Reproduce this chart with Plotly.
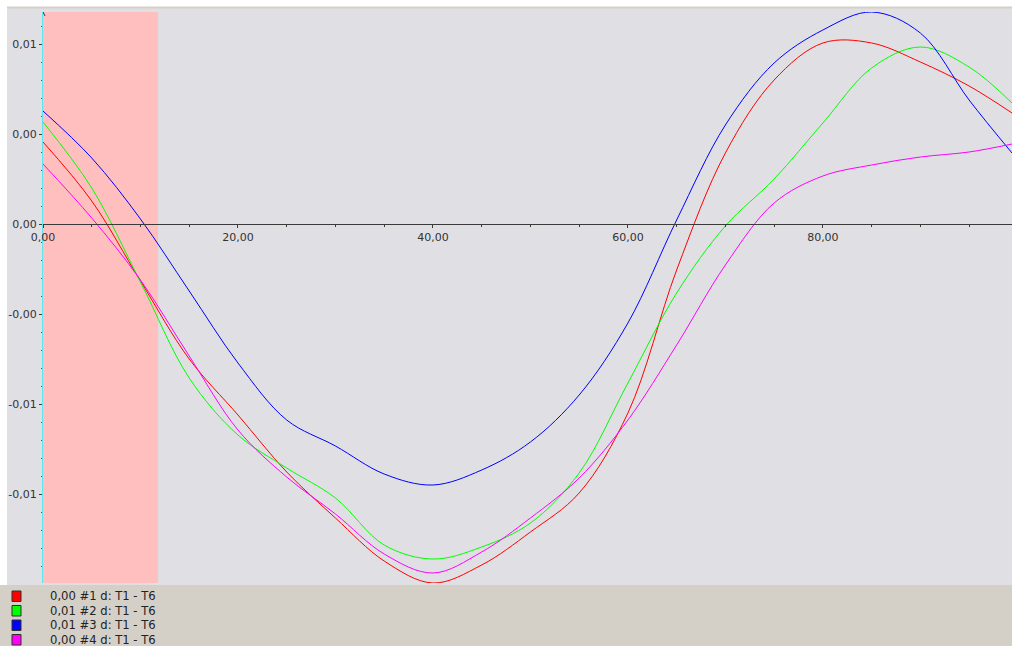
import plotly.graph_objects as go

# ---- data -------------------------------------------------------------
x_pos = [0, 5, 10, 15, 20, 25, 30, 35, 40, 45, 50, 55, 60, 65, 70, 75, 80, 85, 90, 95, 99.4]

d1 = [0.004556, 0.001278, -0.003167, -0.007500, -0.010611, -0.013778, -0.016333,
      -0.018722, -0.019944, -0.018944, -0.017111, -0.014944, -0.010500, -0.002556,
      0.003944, 0.008000, 0.010056, 0.010056, 0.009000, 0.007667, 0.006167]
d2 = [0.005667, 0.002000, -0.003222, -0.008556, -0.011722, -0.013556, -0.015222,
      -0.017833, -0.018611, -0.017944, -0.016611, -0.013833, -0.008833, -0.003833,
      -0.000111, 0.002500, 0.005611, 0.008667, 0.009833, 0.008722, 0.006722]
d3 = [0.006278, 0.003667, 0.000278, -0.003722, -0.007722, -0.010889, -0.012333,
      -0.013889, -0.014500, -0.013667, -0.012111, -0.009500, -0.005500, 0.000222,
      0.005500, 0.008944, 0.010778, 0.011778, 0.010611, 0.006889, 0.003944]
d4 = [0.003333, 0.000333, -0.003111, -0.007333, -0.011444, -0.014056, -0.016111,
      -0.018333, -0.019389, -0.018222, -0.016333, -0.014111, -0.010889, -0.006722,
      -0.002278, 0.001167, 0.002667, 0.003278, 0.003722, 0.004000, 0.004444]

series_values = [d1, d2, d3, d4]
series_colors = ["#ff0000", "#00ff00", "#0000ff", "#ff00ff"]
legend_labels = ["0,00 #1 d: T1 - T6", "0,01 #2 d: T1 - T6",
                 "0,01 #3 d: T1 - T6", "0,00 #4 d: T1 - T6"]

x_tick_vals = [0, 20, 40, 60, 80]
x_tick_text = ["0,00", "20,00", "40,00", "60,00", "80,00"]
y_tick_vals = [0.01, 0.005, 0.0, -0.005, -0.01, -0.015]
y_tick_text = ["0,01", "0,00", "0,00", "-0,00", "-0,01", "-0,01"]

shade_range = [0, 11.8]
x_range = [0, 99.4]
y_range = [-0.019944, 0.011778]

# ---- layout geometry (pixels) ----------------------------------------
W, H = 1012, 646
ML, MR, MT, MB = 43, 0, 12, 63
PW, PH = W - ML - MR, H - MT - MB


def xp(px):
    return (px - ML) / PW


def yp(py):
    return (H - MB - py) / PH


PANEL = "#e0dfe3"
BAND = "#d4d0c8"
FONT = "DejaVu Sans"

fig = go.Figure()

for vals, col, name in zip(series_values, series_colors, legend_labels):
    fig.add_trace(go.Scatter(
        x=x_pos, y=vals, mode="lines", name=name,
        line=dict(color=col, width=1, shape="spline", smoothing=1.0),
        showlegend=False, hoverinfo="skip",
    ))

shapes = [
    # grey chart panel with top border
    dict(type="rect", xref="paper", yref="paper", x0=xp(7), x1=xp(W), y0=yp(585), y1=yp(7),
         fillcolor=PANEL, line=dict(width=0), layer="below"),
    dict(type="line", xref="paper", yref="paper", x0=xp(7), x1=xp(W), y0=yp(7.5), y1=yp(7.5),
         line=dict(color=BAND, width=2), layer="below"),
    # legend band
    dict(type="rect", xref="paper", yref="paper", x0=xp(0), x1=xp(W), y0=yp(H), y1=yp(585),
         fillcolor=BAND, line=dict(width=0), layer="below"),
    # highlighted interval
    dict(type="rect", xref="x", yref="paper", x0=shade_range[0], x1=shade_range[1], y0=0, y1=1,
         fillcolor="#ffbfbf", line=dict(width=0), layer="below"),
    # arrow head on top of the value axis
    dict(type="path", xref="x", yref="paper", xsizemode="pixel", ysizemode="pixel",
         xanchor=0, yanchor=1, path="M -2,-4 L 0,0 L 2,-4",
         line=dict(color="#3a3a3a", width=1)),
]

annotations = []
row_y = [596, 610.5, 625, 639.5]
for col, label, ry in zip(series_colors, legend_labels, row_y):
    shapes.append(dict(type="rect", xref="paper", yref="paper",
                       x0=xp(12), x1=xp(21), y0=yp(ry + 5.5), y1=yp(ry - 5),
                       fillcolor=col, line=dict(color="#303030", width=1)))
    annotations.append(dict(xref="paper", yref="paper", x=xp(48), y=yp(ry),
                            xanchor="left", yanchor="middle", showarrow=False,
                            text=label, font=dict(family=FONT, size=11.6, color="#222222")))

fig.update_layout(
    width=W, height=H,
    margin=dict(l=ML, r=MR, t=MT, b=MB, pad=0),
    paper_bgcolor="white",
    plot_bgcolor=PANEL,
    showlegend=False,
    shapes=shapes,
    annotations=annotations,
    font=dict(family=FONT, size=11, color="#333333"),
    xaxis=dict(
        range=x_range, anchor="free", position=yp(224),
        showgrid=False, zeroline=False,
        showline=True, linecolor="#3a3a3a", linewidth=1,
        tickmode="array", tickvals=x_tick_vals, ticktext=x_tick_text,
        ticks="outside", ticklen=3, tickcolor="#3a3a3a", tickwidth=1,
        tickfont=dict(family=FONT, size=11, color="#333333"),
        minor=dict(tickmode="linear", tick0=0, dtick=5, ticks="outside",
                   ticklen=2, tickcolor="#3a3a3a", showgrid=False),
    ),
    yaxis=dict(
        range=y_range,
        showgrid=False, zeroline=False,
        showline=True, linecolor="#5fe3ee", linewidth=1,
        tickmode="array", tickvals=y_tick_vals, ticktext=y_tick_text,
        ticks="outside", ticklen=3, tickcolor="#3a3a3a", tickwidth=1,
        tickfont=dict(family=FONT, size=11, color="#333333"),
        minor=dict(tickmode="linear", tick0=0, dtick=0.001, ticks="outside",
                   ticklen=1, tickcolor="#555555", showgrid=False),
    ),
)

fig.write_html("out.html")
